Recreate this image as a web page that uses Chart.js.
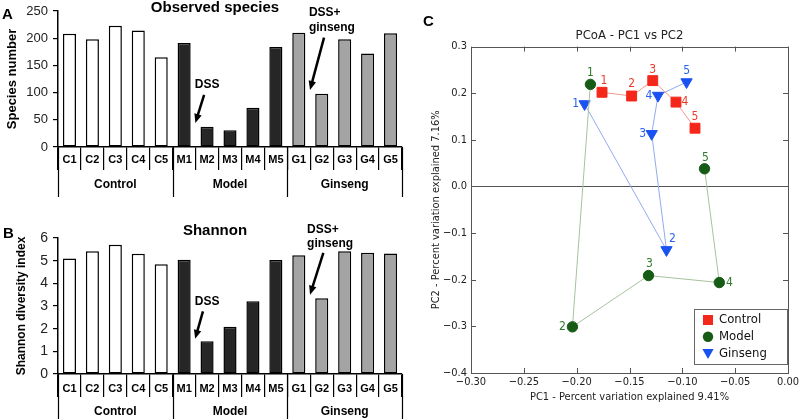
<!DOCTYPE html>
<html>
<head>
<meta charset="utf-8">
<script src="https://cdn.jsdelivr.net/npm/chart.js@4.4.1/dist/chart.umd.min.js"></script>
<style>
  body { margin: 0; background: #fff; }
  #figure { position: relative; width: 800px; height: 419px; overflow: hidden; }
  #figure canvas { position: absolute; }
  .panel-letter { position: absolute; font: bold 15px "Liberation Sans", Arial, sans-serif; line-height: 15px; color: #000; }
</style>
</head>
<body>
<div id="figure">
  <canvas id="speciesChart" width="410" height="200" style="left:0;top:0"></canvas>
  <canvas id="shannonChart" width="410" height="219" style="left:0;top:200px"></canvas>
  <canvas id="pcoaChart" width="385" height="419" style="left:415px;top:0"></canvas>
  <div class="panel-letter" style="left:2px;top:6px">A</div>
  <div class="panel-letter" style="left:3px;top:225px">B</div>
  <div class="panel-letter" style="left:423px;top:13px">C</div>
</div>
<script>
// Panels A and B: per-sample alpha diversity
const categories = ["C1", "C2", "C3", "C4", "C5", "M1", "M2", "M3", "M4", "M5", "G1", "G2", "G3", "G4", "G5"];
const groupNames = ["Control", "Model", "Ginseng"];
const groupOfCategory = [0, 0, 0, 0, 0, 1, 1, 1, 1, 1, 2, 2, 2, 2, 2];
const observedSpecies = [208, 198, 223, 214, 165, 191, 37, 31, 72, 184, 210, 98, 198, 172, 209];
const shannonIndex = [5.10, 5.41, 5.70, 5.31, 4.84, 5.04, 1.44, 2.09, 3.21, 5.03, 5.24, 3.34, 5.41, 5.35, 5.32];
const speciesTicks = [0, 50, 100, 150, 200, 250];
const shannonTicks = [0, 1, 2, 3, 4, 5, 6];

// Panel C: PCoA coordinates
const sampleIds = ["1", "2", "3", "4", "5"];
const controlPC1 = [-0.176, -0.148, -0.128, -0.106, -0.088];
const controlPC2 = [0.202, 0.194, 0.227, 0.181, 0.125];
const modelPC1 = [-0.187, -0.204, -0.132, -0.065, -0.079];
const modelPC2 = [0.219, -0.301, -0.191, -0.206, 0.038];
const ginsengPC1 = [-0.1925, -0.115, -0.129, -0.123, -0.096];
const ginsengPC2 = [0.177, -0.136, 0.113, 0.195, 0.224];
const pc1Ticks = [-0.30, -0.25, -0.20, -0.15, -0.10, -0.05, 0.00];
const pc2Ticks = [-0.4, -0.3, -0.2, -0.1, 0.0, 0.1, 0.2, 0.3];

const arial = '"Liberation Sans", Arial, sans-serif';
const mplFont = '"DejaVu Sans Condensed", "DejaVu Sans", sans-serif';
const groupFill = ["#ffffff", "#262626", "#a4a4a4"];

function drawArrow(ctx, x1, y1, x2, y2) {
  const ang = Math.atan2(y2 - y1, x2 - x1);
  const head = 9;
  ctx.save();
  ctx.strokeStyle = "#000";
  ctx.fillStyle = "#000";
  ctx.lineWidth = 2.5;
  ctx.beginPath();
  ctx.moveTo(x1, y1);
  ctx.lineTo(x2 - Math.cos(ang) * head * 0.8, y2 - Math.sin(ang) * head * 0.8);
  ctx.stroke();
  ctx.beginPath();
  ctx.moveTo(x2, y2);
  ctx.lineTo(x2 - head * Math.cos(ang) + 3.8 * Math.sin(ang), y2 - head * Math.sin(ang) - 3.8 * Math.cos(ang));
  ctx.lineTo(x2 - head * Math.cos(ang) - 3.8 * Math.sin(ang), y2 - head * Math.sin(ang) + 3.8 * Math.cos(ang));
  ctx.closePath();
  ctx.fill();
  ctx.restore();
}

// group rows, titles and arrows under/over the bar charts
const barExtras = {
  id: "barExtras",
  afterDraw(chart, args, o) {
    const { ctx, chartArea: area } = chart;
    const x = chart.scales.x;
    const y = chart.scales.y;
    ctx.save();
    ctx.strokeStyle = "#000";
    ctx.lineWidth = 1.2;
    for (let i = 0; i <= categories.length; i++) {
      if (i === 0 || i === categories.length || groupOfCategory[i] !== groupOfCategory[i - 1]) {
        const px = Math.round(x.getPixelForValue(i - 0.5)) + 0.5;
        ctx.beginPath();
        ctx.moveTo(px, area.bottom);
        ctx.lineTo(px, o.groupLineBottom);
        ctx.stroke();
      }
    }
    ctx.fillStyle = "#000";
    ctx.font = `bold 12px ${arial}`;
    ctx.textAlign = "center";
    ctx.textBaseline = "middle";
    groupNames.forEach((name, g) => {
      const idx = groupOfCategory.map((v, i) => v === g ? i : -1).filter(i => i >= 0);
      const mid = (idx[0] + idx[idx.length - 1]) / 2;
      ctx.fillText(name, x.getPixelForValue(mid), o.groupLabelY);
    });

    ctx.font = `bold 15px ${arial}`;
    ctx.fillText(o.title, o.titleX, o.titleY);

    ctx.font = `bold 12px ${arial}`;
    o.notes.forEach(n => {
      ctx.textAlign = n.align;
      n.lines.forEach(l => {
        ctx.fillText(l.text, x.getPixelForValue(n.at), y.getPixelForValue(l.v));
      });
      drawArrow(ctx,
        x.getPixelForValue(n.from[0]), y.getPixelForValue(n.from[1]),
        x.getPixelForValue(n.to[0]), y.getPixelForValue(n.to[1]));
    });
    ctx.restore();
  }
};

function makeBarChart(canvasId, values, cfg) {
  return new Chart(document.getElementById(canvasId), {
    type: "bar",
    data: {
      labels: categories,
      datasets: [{
        data: values,
        backgroundColor: groupOfCategory.map(g => groupFill[g]),
        borderColor: "#000",
        borderWidth: 1.5,
        borderSkipped: false,
        categoryPercentage: 1,
        barPercentage: 0.57
      }]
    },
    plugins: [barExtras],
    options: {
      responsive: false,
      animation: false,
      layout: { padding: { top: cfg.padTop, right: 8, left: 0, bottom: 0 } },
      plugins: {
        legend: { display: false },
        tooltip: { enabled: false },
        barExtras: cfg.extras
      },
      scales: {
        x: {
          offset: true,
          grid: { offset: true, drawOnChartArea: false, drawTicks: true, tickLength: 23, color: "#000", lineWidth: 1.2 },
          border: { display: true, color: "#000", width: 1.5 },
          ticks: { autoSkip: false, maxRotation: 0, padding: cfg.labelPad, color: "#000", font: { family: arial, size: 11, weight: "bold" } },
          afterFit: s => { s.height = cfg.xAxisHeight; s.paddingLeft = 0; s.paddingRight = 0; }
        },
        y: {
          min: cfg.ticks[0],
          max: cfg.ticks[cfg.ticks.length - 1],
          afterBuildTicks: s => { s.ticks = cfg.ticks.map(v => ({ value: v })); },
          grid: { drawOnChartArea: false, drawTicks: true, tickLength: 5, color: "#000", lineWidth: 1.2 },
          border: { display: true, color: "#000", width: 1.5 },
          ticks: { padding: 5, color: "#222", font: { family: arial, size: cfg.tickSize } },
          title: {
            display: true,
            text: cfg.yTitle,
            color: "#000",
            padding: { top: cfg.yTitlePad, bottom: 0 },
            font: { family: arial, size: cfg.yTitleSize, weight: "bold" }
          },
          afterFit: s => { s.width = 58; s.paddingTop = 0; s.paddingBottom = 0; }
        }
      }
    }
  });
}

makeBarChart("speciesChart", observedSpecies, {
  padTop: 11, xAxisHeight: 53, labelPad: -17, ticks: speciesTicks, tickSize: 13,
  yTitle: "Species number", yTitleSize: 13, yTitlePad: 5,
  extras: {
    groupLineBottom: 197, groupLabelY: 185,
    title: "Observed species", titleX: 215, titleY: 8,
    notes: [
      { align: "center", at: 6.0, lines: [{ text: "DSS", v: 114 }], from: [5.87, 96], to: [5.49, 44] },
      { align: "left", at: 10.44, lines: [{ text: "DSS+", v: 246 }, { text: "ginseng", v: 219 }], from: [11.1, 201], to: [10.49, 105] }
    ]
  }
});

makeBarChart("shannonChart", shannonIndex, {
  padTop: 38, xAxisHeight: 45, labelPad: -15, ticks: shannonTicks, tickSize: 14,
  yTitle: "Shannon diversity index", yTitleSize: 12, yTitlePad: 14,
  extras: {
    groupLineBottom: 219, groupLabelY: 212,
    title: "Shannon", titleX: 215, titleY: 30.5,
    notes: [
      { align: "center", at: 6.0, lines: [{ text: "DSS", v: 3.2 }], from: [5.82, 2.76], to: [5.48, 1.55] },
      { align: "left", at: 10.36, lines: [{ text: "DSS+", v: 6.38 }, { text: "ginseng", v: 5.73 }], from: [11.07, 5.34], to: [10.49, 3.5] }
    ]
  }
});

// Panel C
const pcoaSeries = [
  { label: "Control", pc1: controlPC1, pc2: controlPC2, color: "#f4281a", line: "#f2998f", text: "#ee3a2a", style: "rect", radius: 7, rotation: 0 },
  { label: "Model", pc1: modelPC1, pc2: modelPC2, color: "#165c16", line: "#a8c29e", text: "#2e7a2e", style: "circle", radius: 5.2, rotation: 0 },
  { label: "Ginseng", pc1: ginsengPC1, pc2: ginsengPC2, color: "#1a52f2", line: "#91abf0", text: "#2a62f0", style: "triangle", radius: 6.5, rotation: 180 }
];

const labelOffsets = {
  Control: [[2, -11], [0, -12], [0, -11], [9, 0], [0, -11]],
  Model: [[0, -11], [-10, 0], [1, -12], [10, 0], [1, -11]],
  Ginseng: [[-9, 0], [6, -11], [-9, 0], [-9, 0], [0, -11]]
};

function fmtTick(v, digits) {
  if (Math.abs(v) < 1e-9) v = 0;
  const s = Math.abs(v).toFixed(digits);
  return v < 0 ? "\u2212" + s : s;
}

function drawMarker(ctx, style, x, y) {
  ctx.beginPath();
  if (style === "rect") {
    ctx.rect(x - 5, y - 5, 10, 10);
  } else if (style === "circle") {
    ctx.arc(x, y, 5.2, 0, Math.PI * 2);
  } else {
    ctx.moveTo(x - 5.6, y - 4.5);
    ctx.lineTo(x + 5.6, y - 4.5);
    ctx.lineTo(x, y + 5.5);
    ctx.closePath();
  }
  ctx.fill();
}

const pcoaExtras = {
  id: "pcoaExtras",
  afterDatasetsDraw(chart) {
    const ctx = chart.ctx;
    ctx.save();
    ctx.font = `12px ${mplFont}`;
    ctx.textAlign = "center";
    ctx.textBaseline = "middle";
    pcoaSeries.forEach((s, i) => {
      const meta = chart.getDatasetMeta(i);
      ctx.fillStyle = s.text;
      meta.data.forEach((pt, j) => {
        const off = labelOffsets[s.label][j];
        ctx.fillText(sampleIds[j], pt.x + off[0], pt.y + off[1]);
      });
    });
    ctx.restore();
  },
  afterDraw(chart) {
    const { ctx, chartArea: a } = chart;
    const x = chart.scales.x;
    const y = chart.scales.y;
    ctx.save();
    ctx.strokeStyle = "#555";
    ctx.lineWidth = 1;
    ctx.strokeRect(Math.round(a.left) + 0.5, Math.round(a.top) + 0.5, Math.round(a.width), Math.round(a.height));
    ctx.beginPath();
    x.ticks.forEach(t => {
      const px = Math.round(x.getPixelForValue(t.value)) + 0.5;
      ctx.moveTo(px, a.bottom); ctx.lineTo(px, a.bottom - 5);
      ctx.moveTo(px, a.top); ctx.lineTo(px, a.top + 5);
    });
    y.ticks.forEach(t => {
      const py = Math.round(y.getPixelForValue(t.value)) + 0.5;
      ctx.moveTo(a.left, py); ctx.lineTo(a.left + 5, py);
      ctx.moveTo(a.right, py); ctx.lineTo(a.right - 5, py);
    });
    ctx.stroke();

    // legend box, lower right
    const w = 93, h = 55;
    const lx = a.right - 1 - w, ly = a.bottom - 9 - h;
    ctx.fillStyle = "#fff";
    ctx.fillRect(lx, ly, w, h);
    ctx.strokeStyle = "#666";
    ctx.strokeRect(Math.round(lx) + 0.5, Math.round(ly) + 0.5, w, h);
    ctx.font = `13px ${mplFont}`;
    ctx.textAlign = "left";
    ctx.textBaseline = "middle";
    pcoaSeries.forEach((s, i) => {
      const ry = ly + 11 + i * 16.7;
      ctx.fillStyle = s.color;
      drawMarker(ctx, s.style, lx + 14, ry);
      ctx.fillStyle = "#111";
      ctx.fillText(s.label, lx + 25, ry);
    });
    ctx.restore();
  }
};

new Chart(document.getElementById("pcoaChart"), {
  type: "scatter",
  data: {
    datasets: pcoaSeries.map(s => ({
      label: s.label,
      data: s.pc1.map((v, i) => ({ x: v, y: s.pc2[i] })),
      showLine: true,
      borderColor: s.line,
      borderWidth: 1,
      pointStyle: s.style,
      pointRadius: s.radius,
      pointRotation: s.rotation,
      pointBackgroundColor: s.color,
      pointBorderColor: s.color,
      pointBorderWidth: 1
    }))
  },
  plugins: [pcoaExtras],
  options: {
    responsive: false,
    animation: false,
    layout: { padding: { top: 0, right: 12, left: 0, bottom: 0 } },
    plugins: {
      legend: { display: false },
      tooltip: { enabled: false },
      title: {
        display: true,
        text: "PCoA - PC1 vs PC2",
        fullSize: false,
        color: "#222",
        padding: { top: 28, bottom: 3 },
        font: { family: mplFont, size: 13, weight: "normal" }
      }
    },
    scales: {
      x: {
        type: "linear",
        min: pc1Ticks[0],
        max: pc1Ticks[pc1Ticks.length - 1],
        afterBuildTicks: s => { s.ticks = pc1Ticks.map(v => ({ value: v })); },
        grid: { display: false, drawTicks: false },
        border: { display: false },
        ticks: { padding: 3, color: "#222", font: { family: mplFont, size: 11 }, callback: v => fmtTick(v, 2) },
        title: {
          display: true,
          text: "PC1 - Percent variation explained 9.41%",
          color: "#222",
          padding: { top: 0, bottom: 15 },
          font: { family: mplFont, size: 11 }
        },
        afterFit: s => { s.height = 46; s.paddingLeft = 0; s.paddingRight = 0; }
      },
      y: {
        min: pc2Ticks[0],
        max: pc2Ticks[pc2Ticks.length - 1],
        afterBuildTicks: s => { s.ticks = pc2Ticks.map(v => ({ value: v })); },
        grid: {
          drawTicks: false,
          lineWidth: 1,
          color: c => Math.abs(c.tick.value) < 1e-9 ? "#555" : "rgba(0,0,0,0)"
        },
        border: { display: false },
        ticks: { padding: 4, color: "#222", font: { family: mplFont, size: 11 }, callback: v => fmtTick(v, 1) },
        title: {
          display: true,
          text: "PC2 - Percent variation explained 7.16%",
          color: "#222",
          padding: { top: 15, bottom: 0 },
          font: { family: mplFont, size: 11 }
        },
        afterFit: s => { s.width = 56; s.paddingTop = 0; s.paddingBottom = 0; }
      }
    }
  }
});
</script>
</body>
</html>
